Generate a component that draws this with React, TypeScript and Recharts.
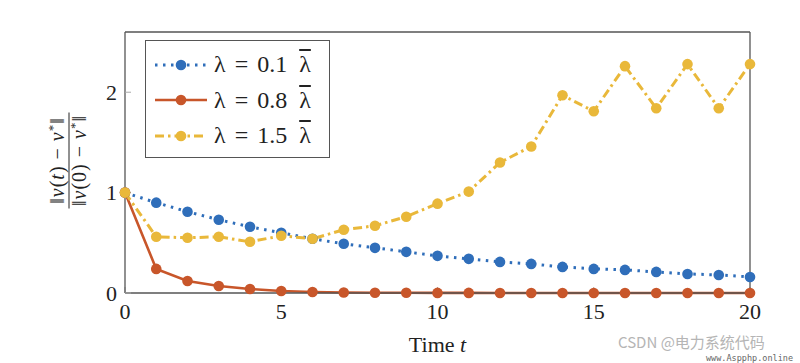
import React from 'react';
import { LineChart, Line, XAxis, YAxis, Legend } from 'recharts';

const times = [0, 1, 2, 3, 4, 5, 6, 7, 8, 9, 10, 11, 12, 13, 14, 15, 16, 17, 18, 19, 20];
const lambda01 = [1, 0.9, 0.81, 0.73, 0.66, 0.6, 0.54, 0.49, 0.45, 0.41, 0.37, 0.34, 0.31, 0.29, 0.26, 0.24, 0.23, 0.21, 0.19, 0.18, 0.16];
const lambda08 = [1, 0.24, 0.12, 0.07, 0.04, 0.02, 0.01, 0.005, 0.003, 0.002, 0.001, 0.001, 0, 0, 0, 0, 0, 0, 0, 0, 0];
const lambda15 = [1, 0.56, 0.55, 0.56, 0.51, 0.57, 0.54, 0.63, 0.67, 0.76, 0.89, 1.01, 1.3, 1.46, 1.97, 1.81, 2.26, 1.84, 2.28, 1.84, 2.28];
const xTicks = [0, 5, 10, 15, 20];
const yTicks = [0, 1, 2];
const seriesLabels = ['0.1', '0.8', '1.5'];

const data = times.map((t, i) => ({ t, a: lambda01[i], b: lambda08[i], c: lambda15[i] }));

const BLUE = '#2f6eba';
const ORANGE = '#c8562a';
const YELLOW = '#e9b83a';
const FONT = '"Liberation Serif", "DejaVu Serif", serif';
const AXIS = '#555';
const TICK = '#aaa';

const series = [
  { key: 'a', color: BLUE, dash: '2.5 5.5', width: 3, label: seriesLabels[0] },
  { key: 'b', color: ORANGE, dash: undefined, width: 2.6, label: seriesLabels[1] },
  { key: 'c', color: YELLOW, dash: '9 4 2.5 4', width: 3, label: seriesLabels[2] },
];

const YLabel = (props: any) => {
  const vb = props.viewBox || {};
  const cx = vb.x + 4;
  const cy = vb.y + vb.height / 2 - 2;
  const fs = 20;
  return (
    <g transform={`translate(${cx},${cy}) rotate(-90)`} fontFamily={FONT} fontSize={fs} fill="#222">
      <text x={0} y={-5} textAnchor="middle" letterSpacing={1}>
        <tspan>‖</tspan>
        <tspan fontStyle="italic">v</tspan>
        <tspan>(</tspan>
        <tspan fontStyle="italic">t</tspan>
        <tspan>) − </tspan>
        <tspan fontStyle="italic">v</tspan>
        <tspan dy={-7} fontSize={13}>*</tspan>
        <tspan dy={7}>‖</tspan>
      </text>
      <line x1={-48} x2={48} y1={0} y2={0} stroke="#222" strokeWidth={1} />
      <text x={0} y={17} textAnchor="middle" letterSpacing={1}>
        <tspan>‖</tspan>
        <tspan fontStyle="italic">v</tspan>
        <tspan>(0) − </tspan>
        <tspan fontStyle="italic">v</tspan>
        <tspan dy={-7} fontSize={13}>*</tspan>
        <tspan dy={7}>‖</tspan>
      </text>
    </g>
  );
};

const XLabel = (props: any) => {
  const vb = props.viewBox || {};
  return (
    <text x={vb.x + vb.width / 2} y={vb.y + 59} textAnchor="middle" fontFamily={FONT} fontSize={22} fill="#222">
      <tspan>Time </tspan>
      <tspan fontStyle="italic">t</tspan>
    </text>
  );
};

const LegendBox = () => (
  <div
    style={{
      border: `1.4px solid ${AXIS}`,
      background: '#fff',
      width: 185,
      height: 118,
      boxSizing: 'border-box',
      paddingTop: 6,
      fontFamily: FONT,
      fontSize: 24,
      color: '#222',
    }}
  >
    {series.map((s) => (
      <div key={s.key} style={{ display: 'flex', alignItems: 'center', height: 35.5 }}>
        <svg width={68} height={20} style={{ flex: 'none' }}>
          <line x1={9} x2={61} y1={10} y2={10} stroke={s.color} strokeWidth={s.width} strokeDasharray={s.dash} />
          <circle cx={35} cy={10} r={5.3} fill={s.color} />
        </svg>
        <span style={{ whiteSpace: 'nowrap', wordSpacing: 3 }}>
          <span>λ</span> = {s.label}{' '}
          <span style={{ textDecoration: 'overline', marginLeft: 3 }}>λ</span>
        </span>
      </div>
    ))}
  </div>
);

export default function App() {
  return (
    <div style={{ position: 'absolute', left: 0, top: 0, width: 800, height: 363, background: '#fff' }}>
      <LineChart width={800} height={363} data={data} margin={{ top: 32, right: 50, bottom: 30, left: 65 }}>
        <XAxis
          xAxisId="b"
          dataKey="t"
          type="number"
          domain={[0, 20]}
          ticks={xTicks}
          height={40}
          tickSize={-6}
          tickMargin={16}
          axisLine={{ stroke: AXIS, strokeWidth: 1.3 }}
          tickLine={{ stroke: TICK }}
          tick={{ fontFamily: FONT, fontSize: 22, fill: '#222' }}
          label={{ content: XLabel }}
        />
        <XAxis
          xAxisId="top"
          orientation="top"
          type="number"
          domain={[0, 20]}
          ticks={xTicks}
          mirror
          height={30}
          tickSize={6}
          tick={false}
          axisLine={{ stroke: AXIS, strokeWidth: 1.3 }}
          tickLine={{ stroke: TICK }}
        />
        <YAxis
          yAxisId="l"
          type="number"
          domain={[0, 2.6]}
          ticks={yTicks}
          width={60}
          tickSize={-6}
          tickMargin={14}
          axisLine={{ stroke: AXIS, strokeWidth: 1.3 }}
          tickLine={{ stroke: TICK }}
          tick={{ fontFamily: FONT, fontSize: 22, fill: '#222' }}
          label={{ content: YLabel }}
        />
        <YAxis
          yAxisId="r"
          orientation="right"
          type="number"
          domain={[0, 2.6]}
          ticks={yTicks}
          mirror
          width={30}
          tickSize={6}
          tick={false}
          axisLine={{ stroke: AXIS, strokeWidth: 1.3 }}
          tickLine={{ stroke: TICK }}
        />
        {series.map((s) => (
          <Line
            key={s.key}
            xAxisId="b"
            yAxisId="l"
            type="linear"
            dataKey={s.key}
            stroke={s.color}
            strokeWidth={s.width}
            strokeDasharray={s.dash}
            dot={{ r: 5.3, fill: s.color, stroke: 'none' }}
            isAnimationActive={false}
          />
        ))}
        <Legend
          layout="vertical"
          verticalAlign="middle"
          align="center"
          wrapperStyle={{ left: 145, top: 40, width: 'auto' }}
          content={LegendBox}
        />
      </LineChart>
      <div
        style={{
          position: 'absolute',
          left: 618,
          top: 333,
          fontFamily: '"Noto Sans CJK SC", "Noto Sans", sans-serif',
          fontSize: 15,
          lineHeight: '18px',
          color: '#b5b5b5',
          whiteSpace: 'nowrap',
        }}
      >
        CSDN @电力系统代码
      </div>
      <div
        style={{
          position: 'absolute',
          left: 706,
          top: 354,
          fontFamily: '"DejaVu Sans Mono", monospace',
          fontSize: 8.5,
          lineHeight: '9px',
          color: '#666',
          whiteSpace: 'nowrap',
        }}
      >
        www.Aspphp.online
      </div>
    </div>
  );
}
